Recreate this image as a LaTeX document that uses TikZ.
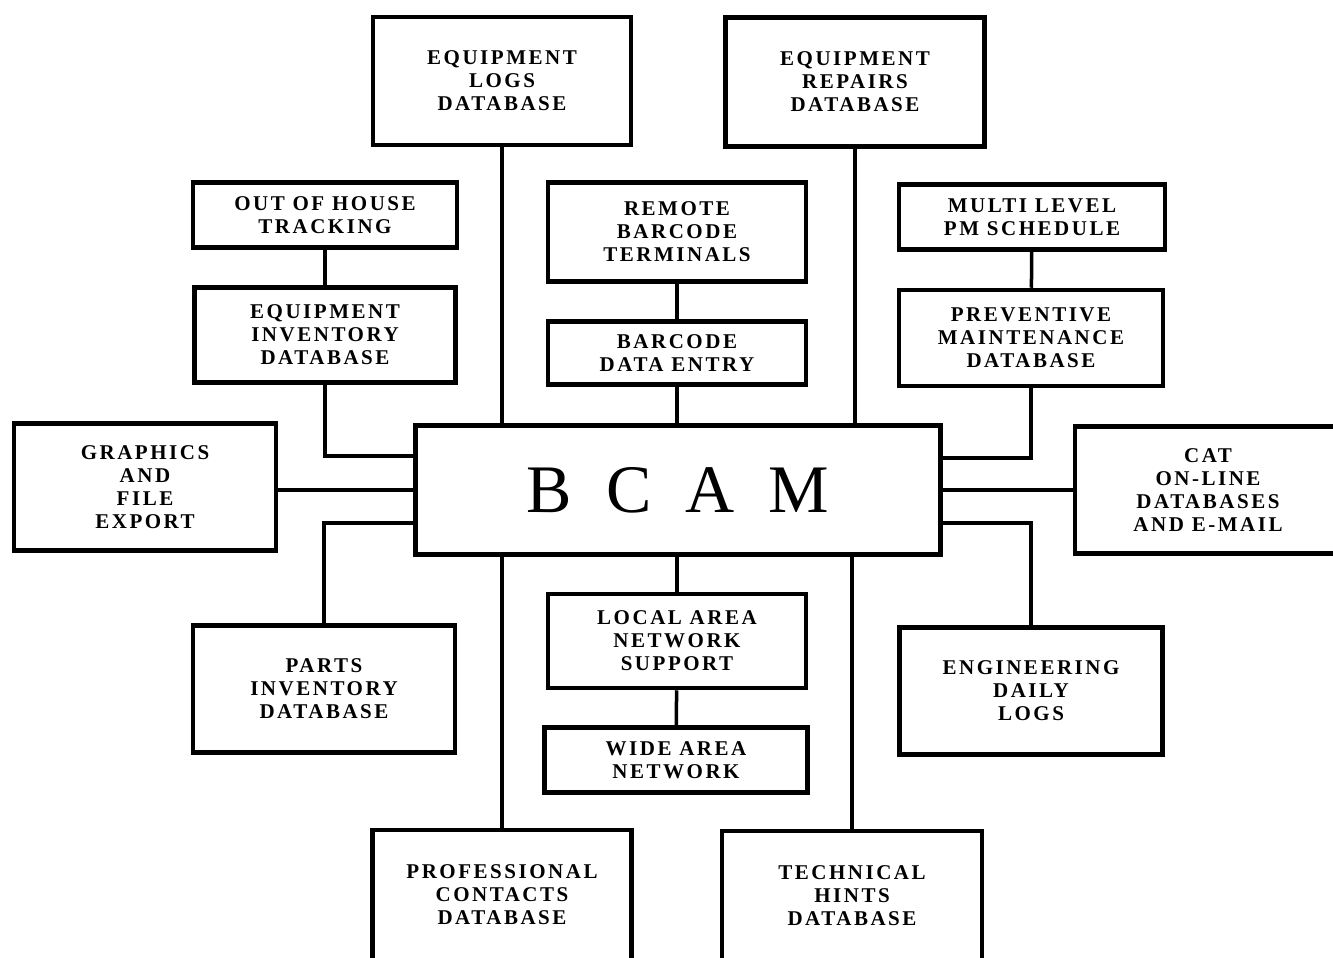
\documentclass[tikz,border=0pt]{standalone}
\usepackage{fontspec}
\newfontfamily\boxfont[LetterSpace=12]{Liberation Serif}
\newfontfamily\bcamfont[LetterSpace=50]{Liberation Serif}
\usetikzlibrary{positioning}

\begin{document}
\begin{tikzpicture}[
    x=1pt,y=-1pt,
    box/.style={rectangle,draw,fill=white,line width=4.5pt,inner sep=0pt,align=center,
        font=\boxfont\bfseries\fontsize{21}{23}\selectfont},
    hub/.style={box,font=\bcamfont\fontsize{68}{70}\selectfont},
    link/.style={draw,line width=3.5pt},
]
\clip (0,0) rectangle (1333,958);
\fill[white] (0,0) rectangle (1333,958);

% outer ring of databases
\node[box,minimum width=258pt,minimum height=128pt] (logs) at (502,81) {EQUIPMENT\\LOGS\\DATABASE};
\node[box,minimum width=259pt,minimum height=129pt] (repairs) at (855,82) {EQUIPMENT\\REPAIRS\\DATABASE};
\node[box,minimum width=262pt,minimum height=127pt] (graphics) at (145,487) {GRAPHICS\\AND\\FILE\\EXPORT};
\node[box,minimum width=266pt,minimum height=127pt] (cat) at (1208,490) {CAT\\ON-LINE\\DATABASES\\AND E-MAIL};
\node[box,minimum width=259pt,minimum height=130pt] (contacts) at (502,895) {PROFESSIONAL\\CONTACTS\\DATABASE};
\node[box,minimum width=260pt,minimum height=130pt] (hints) at (852,896) {TECHNICAL\\HINTS\\DATABASE};

% left column
\node[box,minimum width=264pt,minimum height=65pt] (house) at (325,215) {OUT OF HOUSE\\TRACKING};
\node[box,minimum width=261pt,minimum height=95pt] (inventory) at (325,335) {EQUIPMENT\\INVENTORY\\DATABASE};
\node[box,minimum width=262pt,minimum height=127pt] (parts) at (324,689) {PARTS\\INVENTORY\\DATABASE};

% middle column
\node[box,minimum width=258pt,minimum height=99pt] (remote) at (677,232) {REMOTE\\BARCODE\\TERMINALS};
\node[box,minimum width=258pt,minimum height=63pt] (entry) at (677,353) {BARCODE\\DATA ENTRY};
\node[hub,minimum width=525pt,minimum height=129pt] (bcam) at (678,490) {BCAM};
\node[box,minimum width=258pt,minimum height=94pt] (lan) at (677,641) {LOCAL AREA\\NETWORK\\SUPPORT};
\node[box,minimum width=263pt,minimum height=65pt] (wan) at (676,760) {WIDE AREA\\NETWORK};

% right column
\node[box,minimum width=266pt,minimum height=65pt] (pm) at (1032,217) {MULTI LEVEL\\PM SCHEDULE};
\node[box,minimum width=264pt,minimum height=96pt] (preventive) at (1031,338) {PREVENTIVE\\MAINTENANCE\\DATABASE};
\node[box,minimum width=263pt,minimum height=127pt] (daily) at (1031,691) {ENGINEERING\\DAILY\\LOGS};

% connectors
\draw[link] (logs.south) -- (logs.south |- bcam.north);
\draw[link] (repairs.south) -- (repairs.south |- bcam.north);
\draw[link] (house) -- (inventory);
\draw[link] (inventory.south) |- ([yshift=34pt]bcam.west);
\draw[link] (remote) -- (entry);
\draw[link] (entry.south) -- (entry.south |- bcam.north);
\draw[link] (pm) -- (preventive);
\draw[link] (preventive.south) |- ([yshift=32pt]bcam.east);
\draw[link] (graphics.east |- bcam.west) -- (bcam.west);
\draw[link] (bcam.east) -- (cat.west);
\draw[link] ([yshift=-33pt]bcam.west) -| (parts.north);
\draw[link] ([yshift=-33pt]bcam.east) -| (daily.north);
\draw[link] (bcam.south -| lan.north) -- (lan.north);
\draw[link] (lan) -- (wan);
\draw[link] (contacts.north |- bcam.south) -- (contacts.north);
\draw[link] (hints.north |- bcam.south) -- (hints.north);
\end{tikzpicture}
\end{document}
